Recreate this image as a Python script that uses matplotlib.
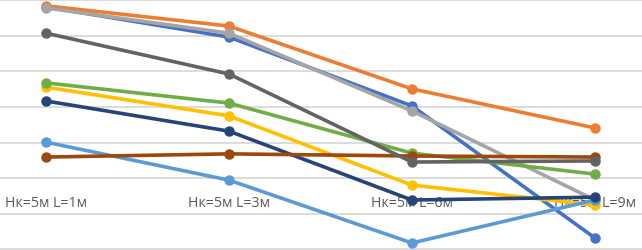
import matplotlib.pyplot as plt

# categories along the x axis
categories = ["Нк=5м L=1м", "Нк=5м L=3м", "Нк=5м L=6м", "Нк=5м L=9м"]

# series values (gridlines at 0..7)
s_blue = [6.82, 5.97, 4.03, 0.31]
s_orange = [6.85, 6.28, 4.51, 3.41]
s_gray = [6.79, 6.08, 3.89, 1.38]
s_yellow = [4.56, 3.75, 1.80, 1.24]
s_lightblue = [3.01, 1.94, 0.17, 1.38]
s_green = [4.68, 4.11, 2.70, 2.11]
s_darkblue = [4.17, 3.32, 1.38, 1.46]
s_brown = [2.59, 2.68, 2.62, 2.59]
s_darkgray = [6.08, 4.93, 2.45, 2.48]

series = [
    (s_blue, "#4472C4"),
    (s_orange, "#ED7D31"),
    (s_gray, "#A5A5A5"),
    (s_yellow, "#FFC000"),
    (s_lightblue, "#5B9BD5"),
    (s_green, "#70AD47"),
    (s_darkblue, "#264478"),
    (s_brown, "#9E480E"),
    (s_darkgray, "#636363"),
]

fig = plt.figure(figsize=(6.42, 2.5), dpi=100)
ax = fig.add_axes([0, 0, 1, 1])

x = list(range(len(categories)))
for vals, col in series:
    ax.plot(x, vals, color=col, lw=2.6, marker="o", ms=6.5, zorder=3,
            solid_capstyle="round")

# category labels sit inside the plot area, under the lines
for i, lab in enumerate(categories):
    ax.text(i, 1.28, lab, ha="center", va="center", fontsize=10.2,
            family="Open Sans", color="#595959", zorder=1)

ax.set_xlim(-0.251, 3.257)
ax.set_ylim(-0.028, 7.014)
ax.set_yticks(range(8))
ax.grid(axis="y", color="#D9D9D9", lw=1.3, zorder=0)
ax.tick_params(left=False, bottom=False, labelleft=False, labelbottom=False)
for sp in ax.spines.values():
    sp.set_visible(False)

fig.savefig("out.png", dpi=100)
